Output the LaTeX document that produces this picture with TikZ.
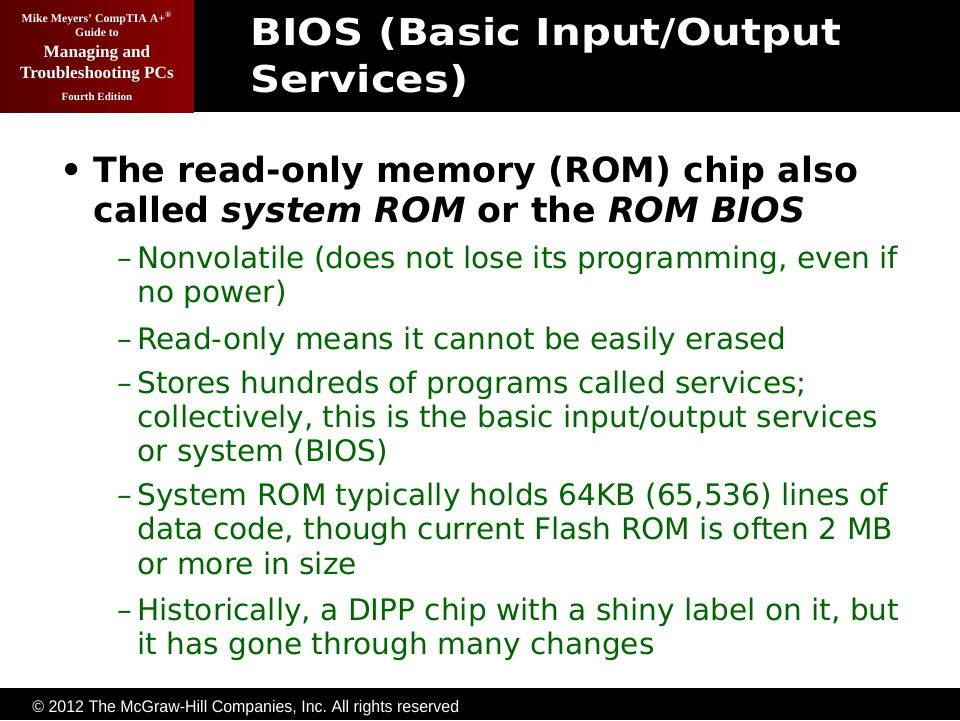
\documentclass[tikz,border=0pt]{standalone}
\usepackage{fontspec}
\setmainfont{DejaVu Sans}
\newfontfamily\titlefont[FakeStretch=1.13]{DejaVu Sans}
\newfontfamily\bookfont{Liberation Serif}
\newfontfamily\footfont[FakeStretch=0.95]{Liberation Sans}
\definecolor{bookdark}{RGB}{86,0,0}
\definecolor{booklight}{RGB}{140,0,0}
\definecolor{subgreen}{RGB}{0,102,0}
\frenchspacing

\begin{document}
\begin{tikzpicture}[x=0.5pt,y=-0.5pt]
   \tikzstyle{title}=[anchor=base west,inner sep=0pt,text=white,font=\titlefont\fontsize{18.5}{22}\selectfont\bfseries]
   \tikzstyle{main}=[anchor=base west,inner sep=0pt,font=\fontsize{17.4}{20}\selectfont\bfseries]
   \tikzstyle{sub}=[anchor=base west,inner sep=0pt,text=subgreen,font=\fontsize{14.8}{17}\selectfont]
   \tikzstyle{book}=[anchor=base,inner sep=0pt,text=white]
   \useasboundingbox (0,0) rectangle (960,720);
   \fill[white] (0,0) rectangle (960,720);
   \fill[black] (0,0) rectangle (960,112);
   \fill[black] (0,688) rectangle (960,720);
   \shade[left color=bookdark,right color=booklight] (0,0) rectangle (194,112);
   % book box
   \node (bk1) [book,font=\bookfont\bfseries\fontsize{5.9}{7}\selectfont] at (97,22.7) {Mike Meyers’ CompTIA A+\textsuperscript{®}};
   \node (bk2) [book,font=\bookfont\bfseries\fontsize{5.9}{7}\selectfont] at (97,36) {Guide to};
   \node (bk3) [book,font=\bookfont\bfseries\fontsize{8.6}{10}\selectfont] at (97,57.3) {Managing and};
   \node (bk4) [book,font=\bookfont\bfseries\fontsize{8.6}{10}\selectfont] at (97,78.3) {Troubleshooting PCs};
   \node (bk5) [book,font=\bookfont\bfseries\fontsize{5.5}{7}\selectfont] at (97,100) {Fourth Edition};
   % title
   \node (t1) [title] at (250,45) {BIOS (Basic Input/Output};
   \node (t2) [title] at (250,92) {Services)};
   % main bullet
   \node (dot) [main] at (60,182) {•};
   \node (m1) [main] at (93,182) {The read-only memory (ROM) chip also};
   \node (m2) [main] at (93,222) {called \textit{system ROM} or the \textit{ROM BIOS}};
   % sub bullets
   \node (d1) [sub] at (117,268) {–};
   \node (s1a) [sub] at (137,268) {Nonvolatile (does not lose its programming, even if};
   \node (s1b) [sub] at (137,302) {no power)};
   \node (d2) [sub] at (117,349) {–};
   \node (s2a) [sub] at (137,349) {Read-only means it cannot be easily erased};
   \node (d3) [sub] at (117,393) {–};
   \node (s3a) [sub] at (137,393) {Stores hundreds of programs called services;};
   \node (s3b) [sub] at (137,427) {collectively, this is the basic input/output services};
   \node (s3c) [sub] at (137,461) {or system (BIOS)};
   \node (d4) [sub] at (117,505) {–};
   \node (s4a) [sub] at (137,505) {System ROM typically holds 64KB (65,536) lines of};
   \node (s4b) [sub] at (137,539) {data code, though current Flash ROM is often 2 MB};
   \node (s4c) [sub] at (137,574) {or more in size};
   \node (d5) [sub] at (117,620) {–};
   \node (s5a) [sub] at (137,620) {Historically, a DIPP chip with a shiny label on it, but};
   \node (s5b) [sub] at (137,654) {it has gone through many changes};
   % footer
   \node (foot) [anchor=base west,inner sep=0pt,text=white,font=\footfont\fontsize{8.4}{10}\selectfont] at (32,712.7) {© 2012 The McGraw-Hill Companies, Inc. All rights reserved};
\end{tikzpicture}
\end{document}
